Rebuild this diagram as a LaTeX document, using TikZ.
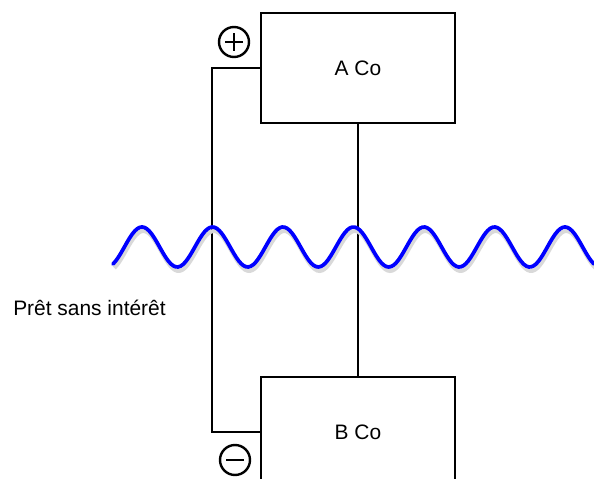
\documentclass[tikz,border=0pt]{standalone}
\usepackage{fontspec}
\setmainfont{Liberation Sans}
\tikzset{
  cobox/.style={draw, line width=2.2pt, minimum width=145.5pt, minimum height=82.5pt, inner sep=0pt, font=\fontsize{15.7}{18}\selectfont},
  wire/.style={line width=1.5pt},
  sign/.style={draw, circle, line width=1.8pt, minimum size=22.5pt, inner sep=0pt}
}
\begin{document}
\begin{tikzpicture}[x=0.75pt, y=-0.75pt]
			\useasboundingbox (0,0) rectangle (594,479);
			\node[cobox] (A) at (358,68) {A Co};
			\node[cobox] (B) at (358,432) {B Co};
			\node[sign] (plus) at (234,42) {};
			\node[sign] (minus) at (235,460) {};
			\draw[line width=1.8pt] (plus.center) ++(-9,0) -- ++(18,0) (plus.center) ++(0,-9) -- ++(0,18);
			\draw[line width=1.8pt] (minus.center) ++(-9,0) -- ++(18,0);
			\draw[wire] (A.west) -- ++(-48,0) |- (B.west);
			\draw[wire] (A.south) -- (B.north);
			\draw[line width=3pt, black!15, yshift=-3pt, xshift=1pt] plot[domain=113:594, samples=200] (\x, {247-20*cos((\x-142)/70.5*360)});
			\draw[line width=2.8pt, blue, line cap=round] plot[domain=113:594, samples=200] (\x, {247-20*cos((\x-142)/70.5*360)});
			\node[font=\fontsize{15.7}{18}\selectfont, anchor=west, inner sep=0pt] (loan) at (13,308) {Prêt sans intérêt};
		\end{tikzpicture}
\end{document}
